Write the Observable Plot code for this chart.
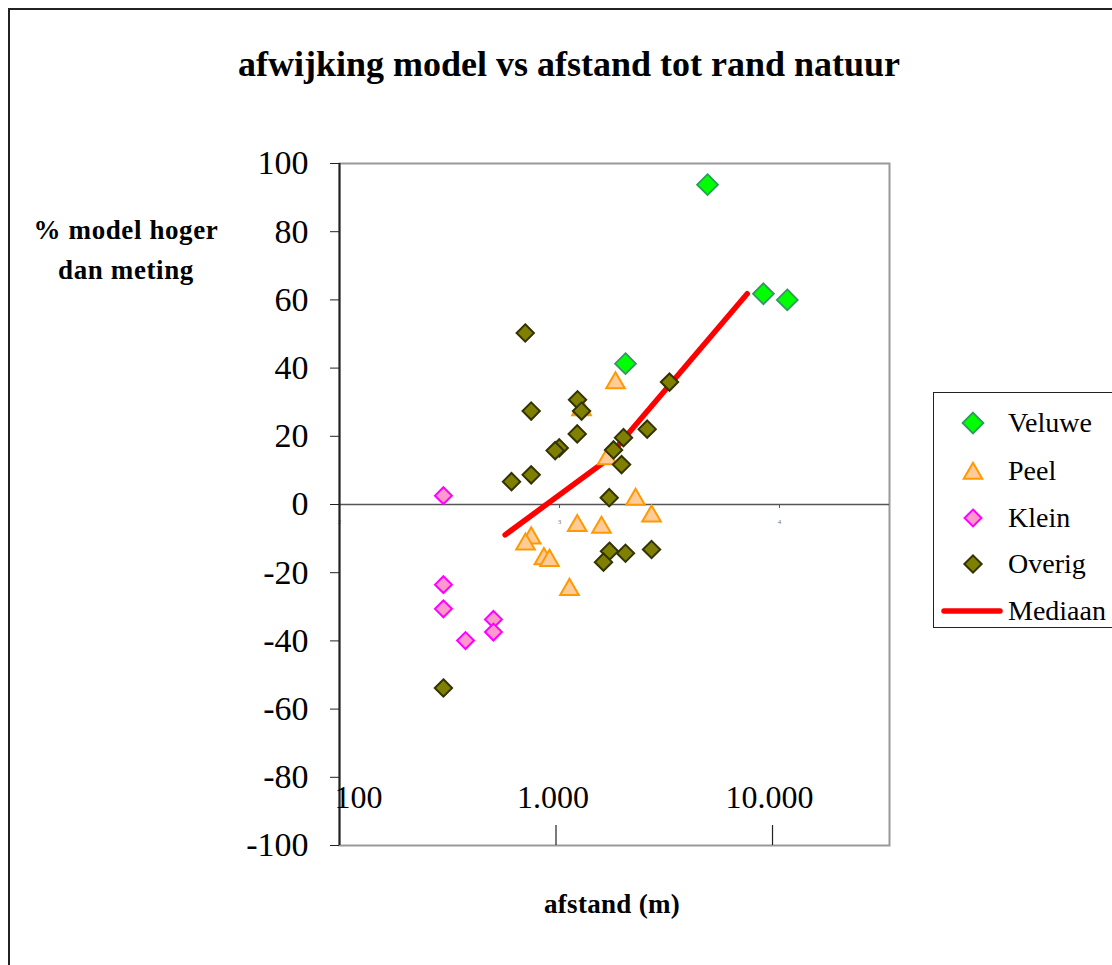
<!DOCTYPE html>
<html><head><meta charset="utf-8">
<script src="https://cdn.jsdelivr.net/npm/d3@7"></script>
<script src="https://cdn.jsdelivr.net/npm/@observablehq/plot@0.6"></script>
<style>
body{margin:0;background:#fff;}
#chart{position:relative;width:1112px;height:965px;overflow:hidden;font-family:"Liberation Serif","Times New Roman",serif;background:#fff;}
#chart svg.plot{position:absolute;left:0;top:0;}
.outer{position:absolute;left:8px;top:8px;width:1200px;height:1100px;border-left:2px solid #222;border-top:2px solid #222;}
.lbl{position:absolute;white-space:nowrap;transform:translate(-50%,-50%);line-height:1;color:#000;font-family:"Liberation Serif","Times New Roman",serif;}
.title{left:569px;top:64px;font-size:36px;font-weight:bold;}
.ylab{left:126px;top:250px;font-size:27px;font-weight:bold;text-align:center;line-height:40px;letter-spacing:0.6px;}
.xlab{left:612px;top:904px;font-size:27px;font-weight:bold;letter-spacing:0.3px;}
.legend{position:absolute;left:933px;top:392px;width:220px;height:236px;border:1.5px solid #222;box-sizing:border-box;background:#fff;}
.legrow{position:absolute;left:0;height:40px;}
.legrow svg{position:absolute;left:0;top:0;}
.legrow span{position:absolute;left:74px;top:50%;transform:translateY(-50%);font-size:28px;line-height:1;white-space:nowrap;}
</style></head>
<body><div id="chart"></div>
<script>
// ---- data ----
const seriesNames = ["Veluwe", "Peel", "Klein", "Overig", "Mediaan"];

const veluweDist = [5010, 9080, 11700, 2094];
const veluwePct  = [93.8, 61.8, 60.0, 41.3];

const peelDist = [1883, 1312, 1723, 2330, 2762, 1253, 1622, 768, 723, 879, 933, 1154];
const peelPct  = [36.4, 28.5, 14.1, 2.2, -2.7, -5.5, -6.0, -9.1, -10.9, -15.2, -15.7, -24.2];

const kleinDist = [302, 302, 302, 514, 514, 382];
const kleinPct  = [2.6, -23.5, -30.6, -33.7, -37.4, -39.9];

const overigDist = [721, 3343, 1257, 1312, 768, 1253, 2637, 2050, 1035, 991, 1844, 2008, 768, 623, 1761, 1766, 2094, 1657, 2762, 302];
const overigPct  = [50.3, 35.9, 30.7, 27.4, 27.4, 20.7, 22.1, 19.6, 16.6, 15.8, 16.0, 11.7, 8.7, 6.7, 2.0, -13.7, -14.3, -16.9, -13.2, -53.8];

const medianDist = [582, 1663, 7640];
const medianPct  = [-8.9, 12.4, 61.8];

const yTicks = [-100, -80, -60, -40, -20, 0, 20, 40, 60, 80, 100];
const xTickValues = [100, 1000, 10000];
const xTickLabels = ["100", "1.000", "10.000"];
const secTickValues = [100, 1038, 10770];
const secTickLabels = ["2", "3", "4"];

const titleText = "afwijking model vs afstand tot rand natuur";
const yLabelLines = ["% model hoger", "dan meting"];
const xLabelText = "afstand (m)";

// ---- build tables ----
const toRows = (xs, ys) => xs.map((d, i) => ({d, v: ys[i]}));
const veluwe = toRows(veluweDist, veluwePct);
const peel = toRows(peelDist, peelPct);
const klein = toRows(kleinDist, kleinPct);
const overig = toRows(overigDist, overigPct);
const median = toRows(medianDist, medianPct);

const styles = {
  Veluwe: {symbol: "diamond2", r: 9.4, fill: "#00ff00", stroke: "#2e9a5e", strokeWidth: 1.8},
  Peel:   {symbol: "triangle", r: 6.9, fill: "#ffcc99", stroke: "#ff9900", strokeWidth: 2},
  Klein:  {symbol: "diamond2", r: 7.6, fill: "#ff99cc", stroke: "#ff00ff", strokeWidth: 2},
  Overig: {symbol: "diamond2", r: 7.8, fill: "#808000", stroke: "#333300", strokeWidth: 2}
};

const chart = Plot.plot({
  width: 1112,
  height: 965,
  marginLeft: 339,
  marginRight: 223,
  marginTop: 163,
  marginBottom: 120,
  x: {type: "log", domain: [100, 34700], axis: null},
  y: {domain: [-100, 100]},
  style: {fontFamily: "'Liberation Serif','Times New Roman',serif", fontSize: "32px", background: "transparent", overflow: "visible", color: "#000"},
  marks: [
    Plot.frame({stroke: "#999", strokeWidth: 2}),
    Plot.ruleY([0], {stroke: "#555", strokeWidth: 1.5}),
    Plot.ruleX(secTickValues.slice(1), {x: d => d, y1: () => 0, y2: () => 0, insetBottom: -4, stroke: "#555", strokeWidth: 1}),
    Plot.text(secTickValues, {x: d => d, y: () => 0, dy: 17, text: (d, i) => secTickLabels[i], fontSize: 7, fill: "#777"}),
    Plot.ruleX([100], {stroke: "#222", strokeWidth: 2}),
    Plot.ruleX(xTickValues.slice(1), {x: d => d, insetTop: 662, stroke: "#222", strokeWidth: 1.2}),
    Plot.axisY(yTicks, {tickSize: 9, tickPadding: 22, fontSize: 34, tickFormat: d => String(d), stroke: "#222", label: null}),
    Plot.text(xTickValues.slice(0, 1), {x: d => d, frameAnchor: "bottom", lineAnchor: "middle", dy: -48, dx: -5, textAnchor: "start", text: (d, i) => xTickLabels[i], fontSize: 32}),
    Plot.text(xTickValues.slice(1), {x: d => d, frameAnchor: "bottom", lineAnchor: "middle", dy: -48, dx: -3, text: (d, i) => xTickLabels[i + 1], fontSize: 32}),
    Plot.line(median, {x: "d", y: "v", stroke: "#ff0000", strokeWidth: 5.5, strokeLinecap: "round", strokeLinejoin: "round"}),
    Plot.dot(veluwe, {x: "d", y: "v", ...styles.Veluwe}),
    Plot.dot(peel, {x: "d", y: "v", dy: 2.5, ...styles.Peel}),
    Plot.dot(klein, {x: "d", y: "v", ...styles.Klein}),
    Plot.dot(overig, {x: "d", y: "v", ...styles.Overig})
  ]
});

const root = document.getElementById("chart");
const outer = document.createElement("div"); outer.className = "outer"; root.appendChild(outer);
root.appendChild(chart);

function addLabel(cls, html) {
  const el = document.createElement("div");
  el.className = "lbl " + cls;
  el.innerHTML = html;
  root.appendChild(el);
}
addLabel("title", titleText);
addLabel("ylab", yLabelLines.join("<br>"));
addLabel("xlab", xLabelText);

// legend
const legend = document.createElement("div");
legend.className = "legend";
root.appendChild(legend);
const rowCenters = [30, 78, 125, 171, 218];
seriesNames.forEach((name, i) => {
  const row = document.createElement("div");
  row.className = "legrow";
  row.style.top = (rowCenters[i] - 20) + "px";
  row.style.width = "220px";
  const svg = d3.create("svg").attr("width", 72).attr("height", 40);
  if (name === "Mediaan") {
    svg.append("line").attr("x1", 10).attr("x2", 66).attr("y1", 20).attr("y2", 20)
      .attr("stroke", "#ff0000").attr("stroke-width", 5.5).attr("stroke-linecap", "round");
  } else {
    const s = styles[name];
    const sym = s.symbol === "triangle" ? d3.symbolTriangle : d3.symbolDiamond2;
    const path = d3.symbol(sym, Math.PI * s.r * s.r)();
    svg.append("path").attr("d", path)
      .attr("transform", `translate(39,${s.symbol === "triangle" ? 22.5 : 20})`)
      .attr("fill", s.fill).attr("stroke", s.stroke).attr("stroke-width", s.strokeWidth);
  }
  row.appendChild(svg.node());
  const span = document.createElement("span");
  span.textContent = name;
  row.appendChild(span);
  legend.appendChild(row);
});
</script>
</body></html>
